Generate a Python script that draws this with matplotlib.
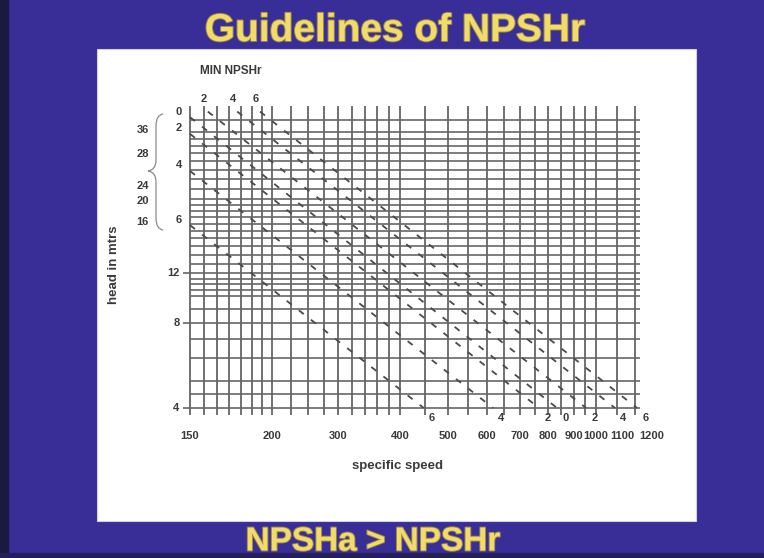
import numpy as np
import matplotlib
matplotlib.use("Agg")
import matplotlib.pyplot as plt
import matplotlib.patheffects as pe
from matplotlib.path import Path
from matplotlib.patches import PathPatch, Rectangle
from matplotlib.transforms import Affine2D

# --- chart data ---
grid_ns = [150, 160, 170, 180, 190, 200, 210, 220, 240, 260, 280, 300, 320, 340,
           360, 380, 400, 450, 500, 550, 600, 650, 700, 750, 800, 850, 900, 950,
           1000, 1100, 1200]
grid_head = [4, 4.5, 5, 6, 7, 8, 9, 10, 10.5, 11, 11.5, 12, 13, 14, 15, 16, 17,
             18, 19, 20, 21, 22, 24, 26, 28, 30, 32, 34, 36, 38, 42]

x_labels = ["150", "200", "300", "400", "500", "600", "700", "800", "900",
            "1000", "1100", "1200"]
x_label_at = [150, 220, 300, 400, 500, 600, 700, 800, 900, 1000, 1100, 1200]
y_labels = ["4", "8", "12"]
y_label_at = [4, 8, 12]
brace_labels = ["36", "28", "24", "20", "16"]
brace_label_at = [38.8, 31.8, 24.6, 21.6, 18.3]

# min NPSHr dashed lines: start / end points (specific speed, head)
npsh_start_label = ["0", "2", "4", "6", "2", "4", "6"]
npsh_end_label = ["0", "2", "4", "6", "2", "4", "6"]
ns_start = [150, 150, 150, 150, 163, 187, 208]
h_start = [43, 37.5, 27.7, 17.8, 45, 45, 45]
ns_end = [833, 766, 618, 447, 954, 1092, 1210]
h_end = [4, 4, 4, 4, 4, 4, 4]

W, H = 764, 558
fig = plt.figure(figsize=(W / 100, H / 100), dpi=100)
fig.patch.set_facecolor("#392d98")
px = Affine2D().scale(1 / W, -1 / H).translate(0, 1) + fig.transFigure

# slide frame
fig.add_artist(Rectangle((0, 0), 8, H, transform=px, color="#1b1940", zorder=-2))
fig.add_artist(Rectangle((0, 553), W, 5, transform=px, color="#241f5c", zorder=-2))
fig.add_artist(Rectangle((97, 49), 599, 472, transform=px, facecolor="white",
                         edgecolor="#cfcfe0", lw=0.8, zorder=-1))

yellow = "#f1dc6a"
glow = [pe.withStroke(linewidth=1.4, foreground="#9a8548")]
fig.text(395, 31, "Guidelines of NPSHr", transform=px, ha="center", va="center",
         fontsize=28, fontweight="bold", family="Liberation Sans", color=yellow,
         path_effects=glow)
fig.text(373, 542, "NPSHa > NPSHr", transform=px, ha="center", va="center",
         fontsize=24, fontweight="bold", family="Liberation Sans", color=yellow,
         path_effects=glow)

# axes placed so that 150 -> px 190, 4 -> px 408 (log scales)
ppd_x, ppd_y = 493, 282
l, r, t, b = 180, 650, 95, 425
ax = fig.add_axes([l / W, 1 - b / H, (r - l) / W, (b - t) / H])
ax.set_zorder(2)
ax.set_xscale("log")
ax.set_yscale("log")
ax.set_xlim(150 * 10 ** ((l - 190) / ppd_x), 150 * 10 ** ((r - 190) / ppd_x))
ax.set_ylim(4 * 10 ** ((408 - b) / ppd_y), 4 * 10 ** ((408 - t) / ppd_y))
ax.axis("off")

grid_col = "#666666"
ax.vlines(grid_ns, 3.78, 47, colors=grid_col, lw=1.3)
xmin_h = [145 if h in y_label_at else 150 for h in grid_head]
ax.hlines(grid_head, xmin_h, 1228, colors=grid_col, lw=1.2)

for xs, ys, xe, ye in zip(ns_start, h_start, ns_end, h_end):
    ax.plot([xs, xe], [ys, ye], color="#4a4a4a", lw=1.3, ls=(0, (3.5, 5)))

txt = dict(fontsize=8, fontweight="bold", family="Liberation Sans", color="#3a3a3a")
for lab, xs, ys in zip(npsh_start_label, ns_start, h_start):
    off = (-8, 4) if xs == 150 else (-3, 9)
    ax.annotate(lab, (xs, ys), xytext=off, textcoords="offset points",
                ha="center", va="center", **txt)
for lab, xe, ye in zip(npsh_end_label, ns_end, h_end):
    ax.annotate(lab, (xe, ye), xytext=(6, -7), textcoords="offset points",
                ha="center", va="center", **txt)

# axis labels
crowd = {"1100": 4, "1200": 12}
for lab, xv in zip(x_labels, x_label_at):
    ax.annotate(lab, (xv, 4), xytext=(crowd.get(lab, 0), -20), textcoords="offset points",
                ha="center", va="center", **txt)
for lab, yv in zip(y_labels, y_label_at):
    ax.annotate(lab, (150, yv), xytext=(-7.5, 0), textcoords="offset points",
                ha="right", va="center", **txt)
for lab, yv in zip(brace_labels, brace_label_at):
    ax.annotate(lab, (150, yv), xytext=(-34, 0), textcoords="offset points",
                ha="center", va="center", **txt)

# curly brace grouping the high-head labels
verts = [(163, 114), (156, 115), (156, 126), (156, 160), (156, 170), (148, 171),
         (156, 172), (156, 182), (156, 218), (156, 229), (163, 230)]
codes = [Path.MOVETO, Path.CURVE3, Path.CURVE3, Path.LINETO, Path.CURVE3, Path.CURVE3,
         Path.CURVE3, Path.CURVE3, Path.LINETO, Path.CURVE3, Path.CURVE3]
fig.add_artist(PathPatch(Path(verts, codes), transform=px, fill=False,
                         edgecolor="#8a8a8a", lw=0.9, zorder=3))

fig.text(231, 71, "MIN NPSHr", transform=px, ha="center", va="center",
         fontsize=8.5, fontweight="bold", family="Liberation Sans", color="#3a3a3a")
fig.text(398, 466, "specific speed", transform=px, ha="center", va="center",
         fontsize=9.5, fontweight="bold", family="Liberation Sans", color="#3a3a3a")
fig.text(114, 265, "head in mtrs", transform=px, ha="center", va="center", rotation=90,
         fontsize=9.5, fontweight="bold", family="Liberation Sans", color="#3a3a3a")

fig.savefig("out.png", dpi=100, facecolor=fig.get_facecolor())
